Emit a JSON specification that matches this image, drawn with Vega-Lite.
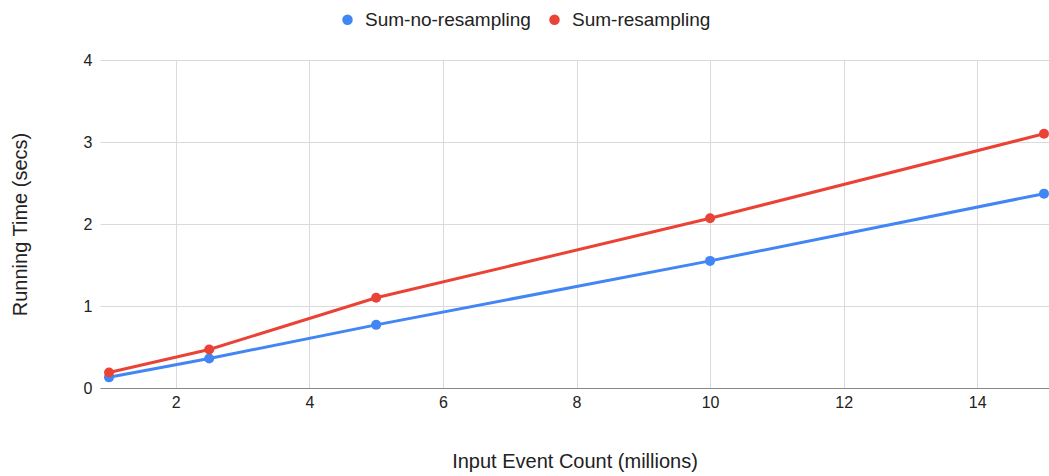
{
  "$schema": "https://vega.github.io/schema/vega-lite/v6.json",
  "width": 949,
  "height": 328,
  "autosize": {"type": "none"},
  "padding": {"left": 100, "top": 60, "right": 0, "bottom": 88},
  "background": "white",
  "config": {
    "font": "Liberation Sans",
    "view": {"stroke": null},
    "axis": {"labelFont": "Liberation Sans", "titleFont": "Liberation Sans", "labelColor": "#222", "titleColor": "#222", "titleFontWeight": "normal"}
  },
  "data": {
    "values": [
      {"x": 1, "y": 0.13, "s": "Sum-no-resampling"},
      {"x": 2.5, "y": 0.36, "s": "Sum-no-resampling"},
      {"x": 5, "y": 0.77, "s": "Sum-no-resampling"},
      {"x": 10, "y": 1.55, "s": "Sum-no-resampling"},
      {"x": 15, "y": 2.37, "s": "Sum-no-resampling"},
      {"x": 1, "y": 0.19, "s": "Sum-resampling"},
      {"x": 2.5, "y": 0.47, "s": "Sum-resampling"},
      {"x": 5, "y": 1.1, "s": "Sum-resampling"},
      {"x": 10, "y": 2.07, "s": "Sum-resampling"},
      {"x": 15, "y": 3.1, "s": "Sum-resampling"}
    ]
  },
  "encoding": {
    "x": {
      "field": "x", "type": "quantitative",
      "scale": {"domain": [0.865, 15.075], "nice": false, "zero": false},
      "axis": {
        "title": "Input Event Count (millions)", "titleFontSize": 20, "titlePadding": 41,
        "values": [2, 4, 6, 8, 10, 12, 14], "labelFontSize": 16, "labelPadding": 6,
        "ticks": false, "domainColor": "#888", "gridColor": "#dadada", "labelFlush": false
      }
    },
    "y": {
      "field": "y", "type": "quantitative",
      "scale": {"domain": [0, 4], "nice": false},
      "axis": {
        "title": "Running Time (secs)", "titleFontSize": 20, "titlePadding": 53,
        "values": [0, 1, 2, 3, 4], "labelFontSize": 16, "labelPadding": 8,
        "ticks": false, "domain": false, "gridColor": "#dadada"
      }
    },
    "color": {
      "field": "s", "type": "nominal",
      "scale": {"domain": ["Sum-no-resampling", "Sum-resampling"], "range": ["#4285F4", "#EA4335"]},
      "legend": {
        "title": null, "orient": "none", "direction": "horizontal",
        "legendX": 238, "legendY": -50,
        "symbolType": "circle", "symbolSize": 110, "symbolFillOpacity": 1, "symbolStrokeWidth": 0,
        "labelFontSize": 19, "labelColor": "#222", "labelOffset": 8, "columnPadding": 14, "labelLimit": 400
      }
    }
  },
  "layer": [
    {"mark": {"type": "line", "strokeWidth": 3}},
    {"mark": {"type": "circle", "size": 100, "opacity": 1}}
  ]
}
